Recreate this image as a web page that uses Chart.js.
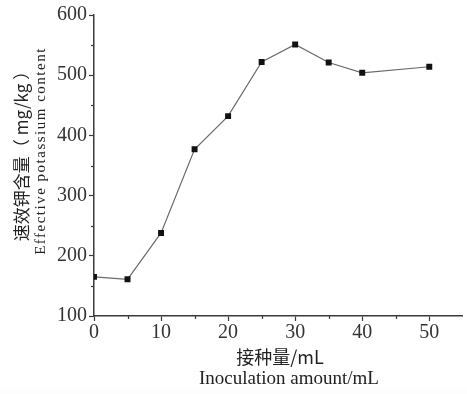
<!DOCTYPE html>
<html><head><meta charset="utf-8">
<script src="https://cdn.jsdelivr.net/npm/chart.js@4"></script>
<style>html,body{margin:0;padding:0;background:#fff}#wrap{width:467px;height:394px}</style>
</head><body><div id="wrap"><canvas id="c" width="467" height="394"></canvas></div>
<script>
const inoculation = [0, 5, 10, 15, 20, 25, 30, 35, 40, 50];
const potassium = [165, 161, 238, 377, 432, 522, 551, 521, 504, 514];
const xTickLabels = [0, 10, 20, 30, 40, 50];
const yTickLabels = [100, 200, 300, 400, 500, 600];
const yTitleCN = '速效钾含量（ mg/kg ）';
const yTitleEN = 'Effective potassium content';
const xTitleCN = '接种量/mL';
const xTitleEN = 'Inoculation amount/mL';

const axisColor = '#3a3a3a';
const serif = '"Liberation Serif","DejaVu Serif",serif';

const extras = {
  id: 'extras',
  afterDraw(chart) {
    const ctx = chart.ctx;
    const xs = chart.scales.x, ys = chart.scales.y;
    ctx.save();
    // minor ticks
    ctx.strokeStyle = axisColor; ctx.lineWidth = 1.2;
    for (let v = 5; v < 55; v += 10) {
      const px = Math.round(xs.getPixelForValue(v)) + 0.5;
      ctx.beginPath(); ctx.moveTo(px, xs.top); ctx.lineTo(px, xs.top + 3); ctx.stroke();
    }
    for (let v = 150; v < 600; v += 100) {
      const py = Math.round(ys.getPixelForValue(v)) + 0.5;
      ctx.beginPath(); ctx.moveTo(ys.right, py); ctx.lineTo(ys.right - 3, py); ctx.stroke();
    }
    // titles
    ctx.fillStyle = '#222';
    ctx.save();
    ctx.translate(22, 152); ctx.rotate(-Math.PI / 2);
    ctx.textAlign = 'center'; ctx.textBaseline = 'middle';
    ctx.font = '17px "Noto Sans CJK SC", sans-serif';
    ctx.fillText(yTitleCN, 0, 0);
    ctx.restore();
    ctx.save();
    ctx.translate(41, 151); ctx.rotate(-Math.PI / 2);
    ctx.textAlign = 'center'; ctx.textBaseline = 'middle';
    ctx.font = '15px ' + serif;
    if ('letterSpacing' in ctx) ctx.letterSpacing = '1.5px';
    ctx.fillText(yTitleEN, 0, 0);
    ctx.restore();
    ctx.textAlign = 'center'; ctx.textBaseline = 'middle';
    ctx.font = '18px "Noto Sans CJK SC", sans-serif';
    ctx.fillText(xTitleCN, 280, 357);
    ctx.font = '19px ' + serif;
    ctx.textBaseline = 'top';
    ctx.fillText(xTitleEN, 289, 370);
    ctx.fillStyle = '#fdfdfd';
    ctx.fillRect(0, 387, chart.width, chart.height - 387);
    ctx.restore();
  }
};

new Chart(document.getElementById('c'), {
  type: 'scatter',
  data: {
    datasets: [{
      data: inoculation.map((x, i) => ({ x, y: potassium[i] })),
      showLine: true,
      borderColor: '#6a6a6a',
      borderWidth: 1.2,
      pointStyle: 'rect',
      pointRadius: 4.2,
      pointBackgroundColor: '#111',
      pointBorderColor: '#111',
      pointBorderWidth: 0,
      tension: 0
    }]
  },
  options: {
    responsive: false,
    animation: false,
    events: [],
    layout: { padding: { left: 1, top: 15, right: 2, bottom: 0 } },
    plugins: { legend: { display: false }, tooltip: { enabled: false } },
    scales: {
      x: {
        type: 'linear', min: 0, max: 55,
        afterFit(s) { s.height = 78; },
        afterBuildTicks(s) { s.ticks = xTickLabels.map(v => ({ value: v })); },
        ticks: { font: { family: serif, size: 20 }, color: '#333', padding: 0, maxRotation: 0 },
        grid: { drawOnChartArea: false, tickLength: 5, tickColor: axisColor, tickWidth: 1.2 },
        border: { color: axisColor, width: 1.5 }
      },
      y: {
        type: 'linear', min: 100, max: 600,
        afterFit(s) { s.width = 93; },
        afterBuildTicks(s) { s.ticks = yTickLabels.map(v => ({ value: v })); },
        ticks: { font: { family: serif, size: 20 }, color: '#333', padding: 2 },
        grid: { drawOnChartArea: false, tickLength: 5, tickColor: axisColor, tickWidth: 1.2 },
        border: { color: axisColor, width: 1.5 }
      }
    }
  },
  plugins: [extras]
});
</script></body></html>
